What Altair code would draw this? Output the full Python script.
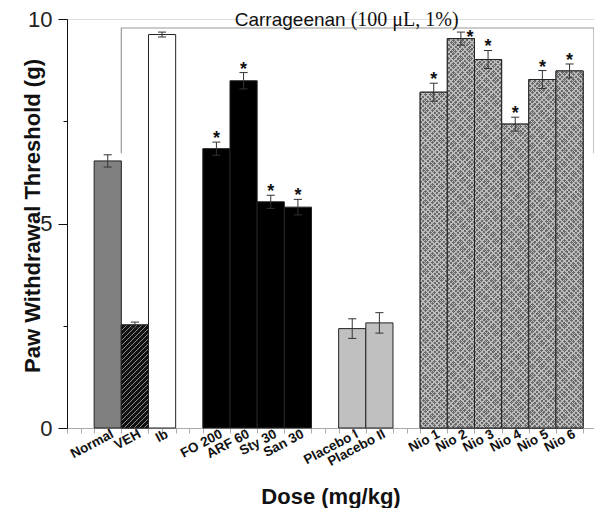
import math
import altair as alt
import pandas as pd

# ---------------- data ----------------
groups = [
    ["Normal", "VEH", "Ib"],
    ["FO 200", "ARF 60", "Sty 30", "San 30"],
    ["Placebo I", "Placebo II"],
    ["Nio 1", "Nio 2", "Nio 3", "Nio 4", "Nio 5", "Nio 6"],
]
kinds = ["Normal", "VEH", "Ib", "Drug", "Drug", "Drug", "Drug",
         "Placebo", "Placebo", "Nio", "Nio", "Nio", "Nio", "Nio", "Nio"]
means = [6.53, 2.52, 9.62, 6.83, 8.49, 5.53, 5.40,
         2.43, 2.57, 8.21, 9.52, 9.01, 7.43, 8.52, 8.73]
errors = [0.15, 0.07, 0.06, 0.16, 0.20, 0.16, 0.19,
          0.24, 0.25, 0.22, 0.16, 0.22, 0.17, 0.22, 0.17]
stars = ["", "", "", "*", "*", "*", "*", "", "", "*", "*", "*", "*", "*", "*"]

bracket_title_a = "Carrageenan"
bracket_title_b = "(100 \u03bcL, 1%)"
bracket_top = 9.78
bracket_bottom = 6.72

y_title = "Paw Withdrawal Threshold (g)"
x_title = "Dose (mg/kg)"

# ---------------- layout ----------------
labels = [lab for g in groups for lab in g]
slots = []
p = 1
for g in groups:
    for _ in g:
        slots.append(p)
        p += 1
    p += 1

X_MIN, X_MAX = -0.5, 18.9
W, H = 527, 409
SX = W / (X_MAX - X_MIN)
SY = H / 10.0

df = pd.DataFrame({"label": labels, "pos": slots, "kind": kinds,
                   "mean": means, "err": errors, "star": stars})

xscale = alt.Scale(domain=[X_MIN, X_MAX], nice=False, zero=False)
yscale = alt.Scale(domain=[0, 10], nice=False)
FONT = "Liberation Sans"

xaxis = alt.Axis(values=[k / 2 for k in range(-1, 38)], labels=False, grid=False,
                 tickSize=5, tickColor="#aaaaaa", domainColor="#aaaaaa",
                 title=x_title, titleFont=FONT, titleFontSize=22, titleFontWeight="bold",
                 titleColor="#111", titleY=75, titleBaseline="alphabetic")
yaxis = alt.Axis(values=[0, 2.5, 5, 7.5, 10], grid=False,
                 labelExpr="datum.value % 5 == 0 ? datum.label : ''",
                 labelFont=FONT, labelFontSize=22, labelColor="#222", labelPadding=6,
                 tickSize={"condition": {"test": "datum.value % 5 == 0", "value": 9}, "value": 4},
                 tickColor="#111", domainColor="#111",
                 title=y_title, titleFont=FONT, titleFontSize=22, titleFontWeight="bold",
                 titleColor="#111", titleX=-28, titleY=H / 2 - 8, titleAngle=270,
                 titleBaseline="alphabetic", titleAlign="center")


def X(field):
    return alt.X(field, scale=xscale, axis=xaxis)


def Y(field):
    return alt.Y(field, scale=yscale, axis=yaxis)


base = alt.Chart(df).transform_calculate(
    x0="datum.pos - 0.5", x1="datum.pos + 0.5",
    hi="datum.mean + datum.err", lo="datum.mean - datum.err",
    cl="datum.pos - 0.15", cr="datum.pos + 0.15")

bars = base.mark_rect(stroke="#222", strokeWidth=1).encode(
    x=X("x0:Q"), x2="x1:Q", y=Y("mean:Q"), y2=alt.datum(0),
    fill=alt.Fill("kind:N", legend=None, scale=alt.Scale(
        domain=["Normal", "VEH", "Ib", "Drug", "Placebo", "Nio"],
        range=["#808080", "#111111", "#ffffff", "#000000", "#c0c0c0", "#7e7e7e"])),
)


def stripes(w, h, period, frac, bg, fg, rising):
    k = (w + h) / (w * w + h * h)
    n = (w + h) / period
    st = []
    for i in range(int(math.ceil(n))):
        a = i / n
        b = min((i + frac) / n, 1.0)
        c = min((i + 1) / n, 1.0)
        st += [alt.GradientStop(offset=a, color=fg), alt.GradientStop(offset=b, color=fg),
               alt.GradientStop(offset=b, color=bg), alt.GradientStop(offset=c, color=bg)]
    if rising:
        return alt.LinearGradient(gradient="linear", stops=st, x1=0, y1=0, x2=w * k, y2=h * k)
    return alt.LinearGradient(gradient="linear", stops=st, x1=0, y1=1, x2=w * k, y2=1 - h * k)


def rect_enc():
    return dict(x=X("x0:Q"), x2="x1:Q", y=Y("mean:Q"), y2=alt.datum(0))


hatch_layers = []
for lab, kind, m in zip(labels, kinds, means):
    hpx = m * SY
    if kind == "VEH":
        g = stripes(SX, hpx, 5.0, 0.33, "#111111", "#8c8c8c", True)
        hatch_layers.append(base.transform_filter(alt.datum.label == lab)
                            .mark_rect(fill=g, stroke="#222", strokeWidth=1).encode(**rect_enc()))
    elif kind == "Nio":
        g1 = stripes(SX, hpx, 4.6, 0.32, "#6a6a6a", "#bcbcbc", True)
        g2 = stripes(SX, hpx, 4.6, 0.32, "rgba(0,0,0,0)", "#bcbcbc", False)
        hatch_layers.append(base.transform_filter(alt.datum.label == lab)
                            .mark_rect(fill=g1, strokeWidth=0).encode(**rect_enc()))
        hatch_layers.append(base.transform_filter(alt.datum.label == lab)
                            .mark_rect(fill=g2, stroke="#222", strokeWidth=1).encode(**rect_enc()))

err_v = base.mark_rule(color="#333", strokeWidth=1).encode(
    x=X("pos:Q"), y=Y("lo:Q"), y2="hi:Q")
cap_hi = base.mark_rule(color="#333", strokeWidth=1).encode(
    x=X("cl:Q"), x2="cr:Q", y=Y("hi:Q"))
cap_lo = base.mark_rule(color="#333", strokeWidth=1).encode(
    x=X("cl:Q"), x2="cr:Q", y=Y("lo:Q"))

star_enc = dict(x=X("pos:Q"), y=Y("hi:Q"), text="star:N")
star_main = base.transform_filter((alt.datum.star != "") & (alt.datum.label != "Nio 2")).mark_text(
    font=FONT, fontWeight="bold", fontSize=18, baseline="alphabetic", dy=2, color="#111"
).encode(**star_enc)
star_shift = base.transform_filter(alt.datum.label == "Nio 2").mark_text(
    font=FONT, fontWeight="bold", fontSize=18, baseline="alphabetic", dy=11, dx=9, color="#111"
).encode(**star_enc)

xlabels = base.mark_text(angle=332, align="right", baseline="top", dx=2, dy=0,
                         font=FONT, fontWeight="bold", fontSize=13.5, color="#111").encode(
    x=X("pos:Q"), y=alt.datum(0), text="label:N")

# bracket over the carrageenan groups
b_left = slots[1] - 0.5
b_right = X_MAX
bdf = pd.DataFrame({"bx": [b_left, b_left, b_right, b_right],
                    "by": [bracket_bottom, bracket_top, bracket_top, bracket_bottom],
                    "o": [0, 1, 2, 3]})
bracket = alt.Chart(bdf).mark_line(color="#9a9a9a", strokeWidth=1.2).encode(
    x=X("bx:Q"), y=Y("by:Q"), order="o:Q")

mid = (b_left + b_right) / 2
tdf = pd.DataFrame({"tx": [mid], "ta": [bracket_title_a], "tb": [bracket_title_b]})
title_a = alt.Chart(tdf).mark_text(font=FONT, fontSize=19, align="right", baseline="alphabetic",
                                   dx=-12, dy=7, color="#111").encode(
    x=X("tx:Q"), y=alt.datum(10), text="ta:N")
title_b = alt.Chart(tdf).mark_text(font="Liberation Serif", fontSize=20, align="left",
                                   baseline="alphabetic", dx=-7, dy=7, color="#111").encode(
    x=X("tx:Q"), y=alt.datum(10), text="tb:N")

chart = alt.layer(bars, *hatch_layers, err_v, cap_hi, cap_lo, star_main, star_shift,
                  xlabels, bracket, title_a, title_b).properties(
    width=W, height=H,
    autosize=alt.AutoSizeParams(type="none"),
    padding={"left": 59, "top": 11, "right": 0, "bottom": 80},
).configure_view(stroke=None).configure(background="white")

chart.save("out.html", embed_options={"renderer": "svg", "actions": False})
